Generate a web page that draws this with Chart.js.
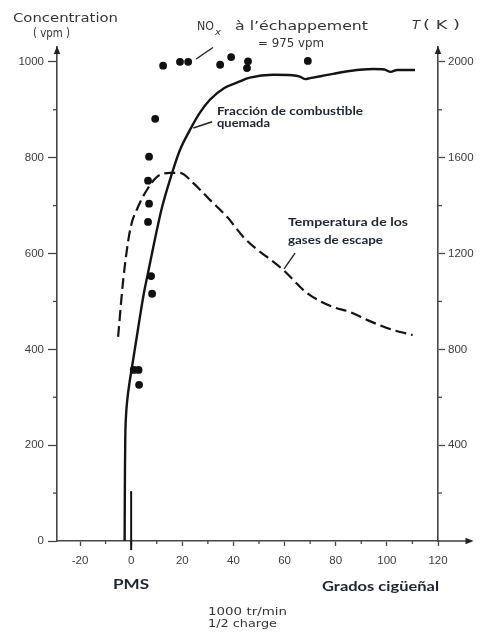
<!DOCTYPE html>
<html><head><meta charset="utf-8">
<script src="https://cdn.jsdelivr.net/npm/chart.js@4.4.1/dist/chart.umd.min.js"></script>
<style>html,body{margin:0;padding:0;background:#fff}canvas{display:block}</style>
</head><body>
<canvas id="c" width="480" height="636"></canvas>
<script>
// ---- data ----
const xLabelStep = 20;                       // crank-angle labels every 20°
const concLabelStep = 200;                   // vpm labels
const tempLabelStep = 400;                   // K labels

// NOx concentration measured (crank angle °, vpm)
const noxAngle = [12.5, 19.1, 22.3, 34.8, 39.1, 45.7, 45.3, 69.1, 9.4, 7.0, 6.6, 7.0, 6.6, 7.8, 8.2, 1.0, 2.9, 3.1];
const noxConc  = [992, 1000, 1000, 994, 1010, 1001, 987, 1002, 881, 802, 752, 704, 666, 553, 516, 357, 357, 326];

// Fraction of fuel burned (drawn on the vpm scale)
const burnedAngle = [-2.55, -2.5, -2.42, -2.3, -2.0, -1.5, -0.6, 0.3, 2.7, 4.8, 6.3, 8.6, 12, 16, 19, 23, 26.9, 30.8, 36.6, 42, 46.4, 55.5, 63, 66, 68, 70, 74, 79, 85.5, 94.5, 99, 101.5, 104, 111];
const burnedConc  = [0, 70, 150, 215, 262, 295, 332, 362, 443, 512, 552, 612, 695, 768, 815, 858, 894, 921, 946, 958, 967, 973, 972, 969, 964, 966, 970, 975, 981, 985, 984, 979, 983, 983];

// Exhaust gas temperature (crank angle °, K)
const tempAngle = [-5.1, -3.1, -0.4, 2.7, 6.2, 10.1, 15.2, 19.1, 24.2, 30.8, 37.5, 44.5, 59.4, 68.8, 78.9, 85.6, 92.2, 102.3, 110.1];
const tempK     = [852, 1090, 1299, 1395, 1466, 1520, 1537, 1537, 1495, 1424, 1353, 1262, 1132, 1035, 977, 956, 923, 881, 860];

// PMS (TDC) marker
const pmsAngle = [0, 0];
const pmsConc  = [-19, 104];

const pts = (xs, ys) => xs.map((x, i) => ({x, y: ys[i]}));

const AXIS = '#474747';
const TICKTXT = '#3c3c3c';
const OLD = '#353535';
const NEW = '#1d2433';

function label(ctx, s, x, y, w, font, color) {
  ctx.save();
  ctx.font = font; ctx.fillStyle = color;
  ctx.textBaseline = 'middle'; ctx.textAlign = 'left';
  const m = ctx.measureText(s).width;
  ctx.translate(x, y);
  if (w) ctx.scale(w / m, 1);
  ctx.fillText(s, 0, 0);
  ctx.restore();
}
function arrow(ctx, x, y, dir) {
  ctx.save(); ctx.fillStyle = '#222'; ctx.beginPath();
  if (dir === 'up') { ctx.moveTo(x, y - 1); ctx.lineTo(x - 3.2, y + 7); ctx.lineTo(x + 3.2, y + 7); }
  else { ctx.moveTo(x + 1, y); ctx.lineTo(x - 7, y - 3.2); ctx.lineTo(x - 7, y + 3.2); }
  ctx.closePath(); ctx.fill(); ctx.restore();
}

const decor = {
  id: 'decor',
  afterDraw(chart) {
    const {ctx, chartArea: a, scales: {x, y, y1}} = chart;
    ctx.save();
    ctx.strokeStyle = AXIS; ctx.lineWidth = 1.3;
    // minor ticks
    for (let v = 100; v < 1000; v += 200) { const p = y.getPixelForValue(v); ctx.beginPath(); ctx.moveTo(a.left - 4, p); ctx.lineTo(a.left, p); ctx.stroke(); }
    for (let v = 200; v < 2000; v += 400) { const p = y1.getPixelForValue(v); ctx.beginPath(); ctx.moveTo(a.right, p); ctx.lineTo(a.right + 4, p); ctx.stroke(); }
    for (let v = -10; v < 120; v += 20) { const p = x.getPixelForValue(v); ctx.beginPath(); ctx.moveTo(p, a.bottom); ctx.lineTo(p, a.bottom + 3); ctx.stroke(); }
    // x axis extension and arrows
    ctx.lineWidth = 1.6;
    const xEnd = x.getPixelForValue(133.5);
    ctx.beginPath(); ctx.moveTo(a.right, a.bottom); ctx.lineTo(xEnd - 4, a.bottom); ctx.stroke();
    ctx.restore();
    arrow(ctx, xEnd, a.bottom, 'right');
    arrow(ctx, a.left, a.top, 'up');
    arrow(ctx, a.right, a.top, 'up');

    // leader lines (data coordinates)
    ctx.save(); ctx.strokeStyle = '#222'; ctx.lineWidth = 1.4;
    const lead = (x0, c0, x1, c1) => { ctx.beginPath(); ctx.moveTo(x.getPixelForValue(x0), y.getPixelForValue(c0)); ctx.lineTo(x.getPixelForValue(x1), y.getPixelForValue(c1)); ctx.stroke(); };
    lead(25.4, 1006, 32.0, 1030);     // NOx
    lead(24.3, 862, 31.7, 875);       // fraction burned
    lead(59.8, 568, 64.1, 601);       // temperature
    ctx.restore();

    // texts
    const oldF = '12px "DejaVu Sans"';
    label(ctx, 'Concentration', 13, 19, 105, oldF, OLD);
    label(ctx, '( vpm )', 33, 34, 37, oldF, OLD);
    label(ctx, 'NO', 197, 27, 17, oldF, OLD);
    label(ctx, 'x', 215, 33, 6, 'italic 9px "DejaVu Sans"', OLD);
    label(ctx, 'à l\u2019échappement', 235, 27, 133, oldF, OLD);
    label(ctx, '= 975 vpm', 258, 44, 66, oldF, OLD);
    label(ctx, 'T', 412, 26, 8, 'italic 12px "DejaVu Sans"', OLD);
    label(ctx, '( K )', 423, 26, 37, oldF, OLD);
    label(ctx, '1000 tr/min', 208, 612, 79, '11px "DejaVu Sans"', OLD);
    label(ctx, '1/2 charge', 208, 624, 69, '11px "DejaVu Sans"', OLD);

    const newF = 'bold 11.5px Lato';
    label(ctx, 'Fracción de combustible', 217, 111, 146, newF, NEW);
    label(ctx, 'quemada', 217, 123, 53, newF, NEW);
    label(ctx, 'Temperatura de los', 288, 222, 120, newF, NEW);
    label(ctx, 'gases de escape', 288, 240, 95, newF, NEW);
    label(ctx, 'PMS', 113, 584, 36, 'bold 14px Lato', NEW);
    label(ctx, 'Grados cigüeñal', 322, 586, 117, 'bold 14px Lato', NEW);
  }
};

const tickFont = {family: '"Liberation Sans", Arial, sans-serif', size: 11.5};

new Chart(document.getElementById('c'), {
  type: 'scatter',
  data: {
    datasets: [
      { label: 'NOx', data: pts(noxAngle, noxConc), yAxisID: 'y', pointRadius: 3.9, pointBackgroundColor: '#111', pointBorderWidth: 0, showLine: false, clip: false },
      { label: 'Fracción de combustible quemada', data: pts(burnedAngle, burnedConc), yAxisID: 'y', showLine: true, borderColor: '#141414', borderWidth: 2.4, pointRadius: 0, cubicInterpolationMode: 'monotone', clip: false },
      { label: 'Temperatura de los gases de escape', data: pts(tempAngle, tempK), yAxisID: 'y1', showLine: true, borderColor: '#141414', borderWidth: 2.2, borderDash: [11, 5], pointRadius: 0, cubicInterpolationMode: 'monotone' },
      { label: 'PMS', data: pts(pmsAngle, pmsConc), yAxisID: 'y', showLine: true, borderColor: '#141414', borderWidth: 2, pointRadius: 0, clip: false }
    ]
  },
  options: {
    responsive: false, animation: false, devicePixelRatio: 1,
    layout: { padding: { top: 47, left: 0, right: 0, bottom: 0 } },
    plugins: { legend: { display: false }, tooltip: { enabled: false } },
    scales: {
      x: {
        type: 'linear', position: 'bottom', min: -29, max: 120,
        afterFit: s => { s.height = 95; },
        border: { color: AXIS, width: 1.6 },
        grid: { drawOnChartArea: false, tickLength: 5, tickWidth: 1.3,
          tickColor: c => (c.tick && c.tick.value % xLabelStep === 0) ? AXIS : 'rgba(0,0,0,0)' },
        ticks: { stepSize: 10, autoSkip: false, maxRotation: 0, includeBounds: false, padding: 8,
          font: tickFont, color: TICKTXT,
          callback: v => (v % xLabelStep === 0 ? String(v) : '') }
      },
      y: {
        position: 'left', min: 0, max: 1031,
        afterFit: s => { s.width = 57; },
        border: { color: AXIS, width: 1.6 },
        grid: { drawOnChartArea: false, tickLength: 9, tickWidth: 1.3,
          tickColor: c => (c.tick && c.tick.value % concLabelStep === 0) ? AXIS : 'rgba(0,0,0,0)' },
        ticks: { stepSize: 100, autoSkip: false, includeBounds: false, padding: 4,
          font: tickFont, color: TICKTXT,
          callback: v => (v % concLabelStep === 0 ? String(v) : '') }
      },
      y1: {
        position: 'right', min: 0, max: 2062,
        afterFit: s => { s.width = 42; },
        border: { color: AXIS, width: 1.6 },
        grid: { drawOnChartArea: false, tickLength: 7, tickWidth: 1.3,
          tickColor: c => (c.tick && c.tick.value > 0 && c.tick.value % tempLabelStep === 0) ? AXIS : 'rgba(0,0,0,0)' },
        ticks: { stepSize: 200, autoSkip: false, includeBounds: false, padding: 3,
          font: tickFont, color: TICKTXT,
          callback: v => (v > 0 && v % tempLabelStep === 0 ? String(v) : '') }
      }
    }
  },
  plugins: [decor]
});
</script>
</body></html>
